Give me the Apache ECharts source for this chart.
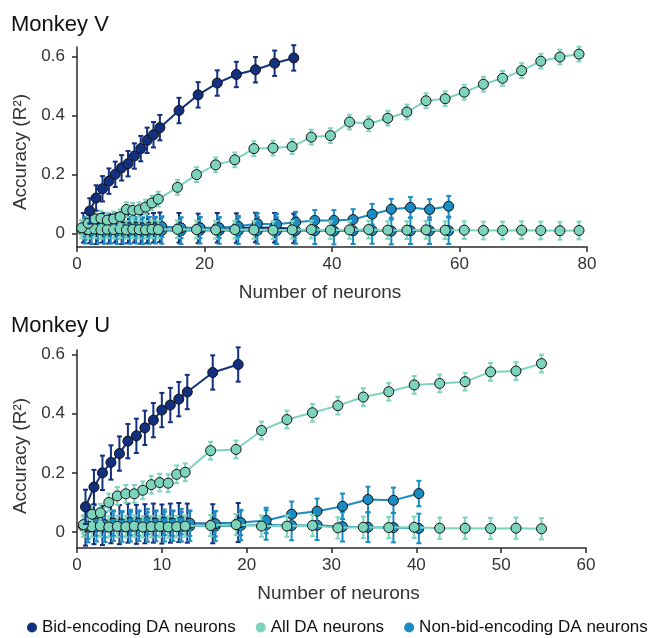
<!DOCTYPE html>
<html>
<head>
<meta charset="utf-8">
<script src="https://cdn.jsdelivr.net/npm/echarts@6/dist/echarts.min.js"></script>
<style>
  html, body { margin: 0; padding: 0; background: #fff; }
  #chart { width: 649px; height: 638px; }
</style>
</head>
<body>
<div id="chart"></div>
<script>
// ---- data: Monkey V ----
const xBidV = [2, 3, 4, 5, 6, 7, 8, 9, 10, 11, 12, 13, 16, 19, 22, 25, 28, 31, 34];
const bidV = [0.077, 0.121, 0.152, 0.178, 0.201, 0.223, 0.237, 0.263, 0.288, 0.316, 0.335, 0.359,
  0.417, 0.470, 0.510, 0.539, 0.555, 0.577, 0.595];
const xBidCtrlV = [1, 2, 3, 4, 5, 6, 7, 8, 9, 10, 11, 12, 13, 16, 19, 22, 25, 28, 31, 34];
const bidCtrlV = [0.02, 0.018, 0.015, 0.02, 0.017, 0.02, 0.015, 0.018, 0.02, 0.016, 0.018, 0.02, 0.022,
  0.02, 0.018, 0.02, 0.019, 0.021, 0.02, 0.018];

const xAllV = [1, 2, 3, 4, 5, 6, 7, 8, 9, 10, 11, 12, 13, 16, 19, 22, 25, 28, 31, 34, 37, 40, 43, 46,
  49, 52, 55, 58, 61, 64, 67, 70, 73, 76, 79];
const allV = [0.02, 0.035, 0.05, 0.052, 0.046, 0.05, 0.057, 0.082, 0.079, 0.081, 0.09, 0.104, 0.117,
  0.157, 0.2, 0.233, 0.25, 0.288, 0.29, 0.295, 0.327, 0.332, 0.378, 0.372, 0.391, 0.412, 0.45, 0.457,
  0.479, 0.506, 0.526, 0.552, 0.584, 0.598, 0.608];
const allCtrlV = [0.015, 0.014, 0.016, 0.013, 0.015, 0.014, 0.016, 0.013, 0.015, 0.014, 0.013, 0.015, 0.014,
  0.015, 0.014, 0.013, 0.014, 0.013, 0.012, 0.013, 0.014, 0.012, 0.013, 0.014, 0.012, 0.012, 0.013, 0.012,
  0.012, 0.011, 0.011, 0.012, 0.011, 0.01, 0.011];

const xNonV = [1, 2, 3, 4, 5, 6, 7, 8, 9, 10, 11, 12, 13, 16, 19, 22, 25, 28, 31, 34, 37, 40, 43, 46,
  49, 52, 55, 58];
const nonV = [0.015, 0.02, 0.018, 0.022, 0.02, 0.018, 0.022, 0.02, 0.021, 0.019, 0.022, 0.02, 0.024,
  0.02, 0.02, 0.02, 0.025, 0.034, 0.032, 0.039, 0.045, 0.045, 0.048, 0.066, 0.083, 0.089, 0.082, 0.093];
const nonCtrlV = [0.012, 0.01, 0.013, 0.011, 0.012, 0.01, 0.012, 0.011, 0.012, 0.01, 0.011, 0.012, 0.011,
  0.01, 0.012, 0.011, 0.01, 0.011, 0.01, 0.011, 0.01, 0.009, 0.01, 0.011, 0.009, 0.01, 0.01, 0.01];

// ---- data: Monkey U ----
const xBidU = [1, 2, 3, 4, 5, 6, 7, 8, 9, 10, 11, 12, 13, 16, 19];
const bidU = [0.085, 0.152, 0.2, 0.235, 0.265, 0.307, 0.325, 0.352, 0.378, 0.412, 0.429, 0.449, 0.473,
  0.539, 0.566];
const bidCtrlU = [0.02, 0.025, 0.022, 0.028, 0.025, 0.03, 0.026, 0.028, 0.03, 0.027, 0.03, 0.032, 0.03,
  0.028, 0.032];

const xAllU = [1, 2, 3, 4, 5, 6, 7, 8, 9, 10, 11, 12, 13, 16, 19, 22, 25, 28, 31, 34, 37, 40, 43, 46,
  49, 52, 55];
const allU = [0.025, 0.06, 0.065, 0.1, 0.122, 0.129, 0.129, 0.141, 0.16, 0.167, 0.165, 0.195, 0.202,
  0.275, 0.279, 0.343, 0.38, 0.403, 0.427, 0.456, 0.474, 0.497, 0.502, 0.508, 0.541, 0.544, 0.569];
const allCtrlU = [0.02, 0.018, 0.02, 0.017, 0.019, 0.018, 0.02, 0.017, 0.018, 0.019, 0.017, 0.018, 0.02,
  0.022, 0.025, 0.02, 0.02, 0.022, 0.014, 0.016, 0.015, 0.016, 0.013, 0.013, 0.012, 0.013, 0.011];

const xNonU = [1, 2, 3, 4, 5, 6, 7, 8, 9, 10, 11, 12, 13, 16, 19, 22, 25, 28, 31, 34, 37, 40];
const nonU = [0.02, 0.03, 0.025, 0.03, 0.028, 0.032, 0.03, 0.035, 0.03, 0.033, 0.03, 0.035, 0.03,
  0.028, 0.032, 0.039, 0.06, 0.07, 0.087, 0.11, 0.107, 0.13];
const nonCtrlU = [0.015, 0.018, 0.016, 0.02, 0.017, 0.018, 0.02, 0.017, 0.019, 0.018, 0.02, 0.018, 0.02,
  0.02, 0.022, 0.024, 0.022, 0.023, 0.018, 0.016, 0.015, 0.012];

// error half-widths per line
const errV = { bid: 0.043, bidCtrl: 0.05, all: 0.025, allCtrl: 0.03, non: 0.035, nonCtrl: 0.045 };
const errU = { bid: 0.058, bidCtrl: 0.066, all: 0.03, allCtrl: 0.036, non: 0.043, nonCtrl: 0.05 };

const yTicks = [0, 0.2, 0.4, 0.6];
const names = ['Bid-encoding DA neurons', 'All DA neurons', 'Non-bid-encoding DA neurons'];

// ---- styling ----
const NAVY = '#12307f';
const TEAL = '#7dd4bd';
const BLUE = '#1b8cc2';
const FONT = 'Liberation Sans, Arial, sans-serif';
const dodge = { bid: 0, all: -0.25, non: 0.3 };

const errorBar = (color) => (params, api) => {
  const x = api.value(0);
  const lo = api.coord([x, api.value(1)]);
  const hi = api.coord([x, api.value(2)]);
  const c = 2.5;
  const style = { stroke: color, lineWidth: 2 };
  return {
    type: 'group',
    children: [
      { type: 'line', shape: { x1: lo[0], y1: lo[1], x2: hi[0], y2: hi[1] }, style },
      { type: 'line', shape: { x1: lo[0] - c, y1: lo[1], x2: lo[0] + c, y2: lo[1] }, style },
      { type: 'line', shape: { x1: hi[0] - c, y1: hi[1], x2: hi[0] + c, y2: hi[1] }, style },
    ],
  };
};

const series = [];
const addPanel = (gi, lines) => {
  lines.forEach((ln, i) => {
    const xs = ln.xs.map((x) => x + dodge[ln.kind]);
    series.push({
      type: 'custom',
      xAxisIndex: gi,
      yAxisIndex: gi,
      silent: true,
      z: 2 + i * 2,
      itemStyle: { color: ln.color },
      renderItem: errorBar(ln.color),
      encode: { x: 0, y: [1, 2] },
      data: xs.map((x, k) => [x, ln.ys[k] - ln.err, ln.ys[k] + ln.err]),
    });
    series.push({
      type: 'line',
      name: ln.name,
      xAxisIndex: gi,
      yAxisIndex: gi,
      z: 3 + i * 2,
      symbol: 'circle',
      symbolSize: 10,
      lineStyle: { color: ln.color, width: 2 },
      itemStyle: { color: ln.color, borderColor: '#111', borderWidth: 1 },
      data: xs.map((x, k) => [x, ln.ys[k]]),
    });
  });
};

// drawing order: blue curves and controls below, teal over them, navy on top
addPanel(0, [
  { kind: 'bid', name: names[0], color: NAVY, xs: xBidCtrlV, ys: bidCtrlV, err: errV.bidCtrl },
  { kind: 'non', name: names[2], color: BLUE, xs: xNonV, ys: nonCtrlV, err: errV.nonCtrl },
  { kind: 'non', name: names[2], color: BLUE, xs: xNonV, ys: nonV, err: errV.non },
  { kind: 'all', name: names[1], color: TEAL, xs: xAllV, ys: allCtrlV, err: errV.allCtrl },
  { kind: 'all', name: names[1], color: TEAL, xs: xAllV, ys: allV, err: errV.all },
  { kind: 'bid', name: names[0], color: NAVY, xs: xBidV, ys: bidV, err: errV.bid },
]);
addPanel(1, [
  { kind: 'bid', name: names[0], color: NAVY, xs: xBidU, ys: bidCtrlU, err: errU.bidCtrl },
  { kind: 'non', name: names[2], color: BLUE, xs: xNonU, ys: nonCtrlU, err: errU.nonCtrl },
  { kind: 'non', name: names[2], color: BLUE, xs: xNonU, ys: nonU, err: errU.non },
  { kind: 'all', name: names[1], color: TEAL, xs: xAllU, ys: allCtrlU, err: errU.allCtrl },
  { kind: 'all', name: names[1], color: TEAL, xs: xAllU, ys: allU, err: errU.all },
  { kind: 'bid', name: names[0], color: NAVY, xs: xBidU, ys: bidU, err: errU.bid },
]);

const axisLine = { show: true, onZero: false, lineStyle: { color: '#2a2a2a', width: 1.5 } };
const labelStyle = { fontSize: 17, color: '#333', fontFamily: FONT };
const nameStyle = { fontSize: 19, color: '#333', fontFamily: FONT };

const makeX = (gi, max, interval, pad) => ({
  type: 'value',
  gridIndex: gi,
  min: 0,
  max,
  interval,
  axisLine,
  axisTick: { show: true, length: 5, lineStyle: { color: '#2a2a2a', width: 1.5 } },
  axisLabel: { ...labelStyle, margin: 9 },
  splitLine: { show: false },
  name: 'Number of neurons',
  nameLocation: 'middle',
  nameGap: 36,
  nameTextStyle: { ...nameStyle, padding: pad },
});

const makeY = (gi, min, max, pad) => ({
  type: 'value',
  gridIndex: gi,
  min,
  max,
  axisLine,
  axisTick: { show: true, length: 5, customValues: yTicks, lineStyle: { color: '#2a2a2a', width: 1.5 } },
  axisLabel: { ...labelStyle, margin: 12, customValues: yTicks },
  splitLine: { show: false },
  name: 'Accuracy (R²)',
  nameLocation: 'middle',
  nameGap: 47,
  nameTextStyle: { ...nameStyle, padding: pad },
});

const chart = echarts.init(document.getElementById('chart'));
chart.setOption({
  animation: false,
  backgroundColor: '#fff',
  textStyle: { fontFamily: FONT },
  title: [
    { text: 'Monkey V', left: 6, top: 9, textStyle: { fontSize: 22, fontWeight: 'normal', color: '#111', fontFamily: FONT } },
    { text: 'Monkey U', left: 6, top: 310, textStyle: { fontSize: 22, fontWeight: 'normal', color: '#111', fontFamily: FONT } },
  ],
  legend: {
    data: names,
    left: 27,
    top: 619,
    width: 622,
    padding: 0,
    icon: 'circle',
    itemWidth: 10,
    itemHeight: 10,
    itemGap: 20,
    itemStyle: { borderWidth: 0 },
    textStyle: { fontSize: 17, color: '#111', fontFamily: FONT },
  },
  grid: [
    { left: 77, top: 47, width: 510, height: 200 },
    { left: 77, top: 350, width: 509, height: 198 },
  ],
  xAxis: [makeX(0, 80, 20, [0, 24, 0, 0]), makeX(1, 60, 10, [0, 0, 0, 14])],
  yAxis: [makeY(0, -0.045, 0.632, [0, 10, 0, 0]), makeY(1, -0.054, 0.615, [0, 14, 0, 0])],
  series,
});
</script>
</body>
</html>
